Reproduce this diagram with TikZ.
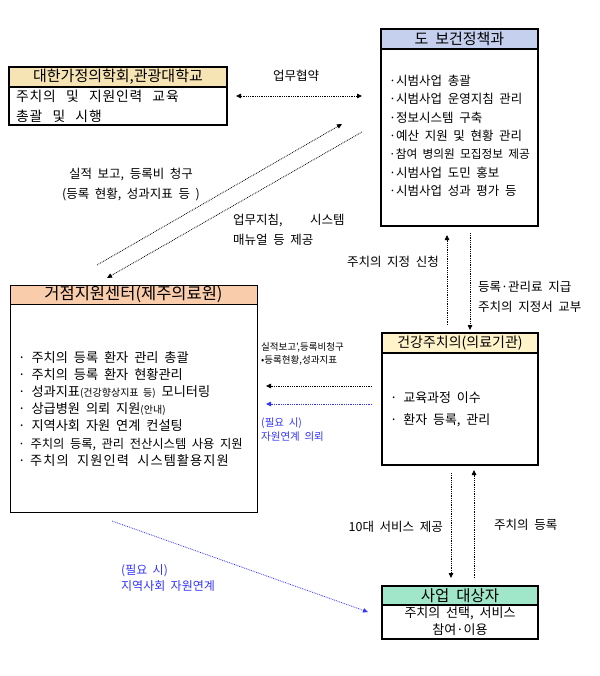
\documentclass[tikz,border=0pt]{standalone}
\usepackage{fontspec}
\setmainfont{Noto Sans CJK KR}[WordSpace=2]
\newfontfamily\widefont{Noto Sans CJK KR}[WordSpace=2.6,LetterSpace=6]
\newfontfamily\widerfont{Noto Sans CJK KR}[WordSpace=2.1,LetterSpace=8]
\usetikzlibrary{arrows.meta}
\definecolor{hblue}{RGB}{197,208,238}
\definecolor{htan}{RGB}{246,228,180}
\definecolor{hsalmon}{RGB}{249,204,172}
\definecolor{hyellow}{RGB}{255,243,202}
\definecolor{hmint}{RGB}{160,230,200}
\definecolor{lblue}{RGB}{51,51,255}
\newcommand{\fs}[2]{\fontsize{#1}{#2}\selectfont}
\begin{document}
\begin{tikzpicture}[x=1pt,y=-1pt,
  boxframe/.style={draw, line width=2pt, inner sep=0pt, outer sep=0pt, anchor=north west},
  hdr/.style={draw, line width=2pt, inner sep=0pt, outer sep=0pt, anchor=north west, font=\fs{15}{18}},
  items/.style={anchor=north west, align=left, inner sep=0pt},
  lbl/.style={inner sep=0pt, align=left, font=\fs{12.5}{20}},
  dotarrow/.style={densely dotted, line width=0.8pt, -{Triangle[length=5pt,width=4.5pt]}},
  dotboth/.style={densely dotted, line width=0.8pt, {Triangle[length=5pt,width=4.5pt]}-{Triangle[length=5pt,width=4.5pt]}},
  bluearrow/.style={dotarrow, draw=lblue},
  bluelbl/.style={lbl, text=lblue}]
\useasboundingbox (0,0) rectangle (599,676);

% ---- 도 보건정책과
\node[boxframe, minimum width=157pt, minimum height=197pt] (pol) at (381,29) {};
\node[hdr, fill=hblue, minimum width=157pt, minimum height=20pt] (polH) at (381,29) {도 보건정책과};
\node[items, font=\fs{12.5}{18.33}] (polT) at (389,75) {·시범사업 총괄\\·시범사업 운영지침 관리\\·정보시스템 구축\\·예산 지원 및 현황 관리\\{\fs{11.7}{18.33}·참여 병의원 모집정보 제공}\\·시범사업 도민 홍보\\·시범사업 성과 평가 등};

% ---- 대한가정의학회
\node[boxframe, minimum width=218pt, minimum height=58pt] (aca) at (9,67) {};
\node[hdr, fill=htan, minimum width=218pt, minimum height=20pt] (acaH) at (9,67) {대한가정의학회,관광대학교};
\node[items, font=\widefont\fs{13.8}{20.3}] (acaT) at (16,90) {주치의 및 지원인력 교육\\총괄 및 시행};

% ---- 거점지원센터
\node[boxframe, line width=1pt, minimum width=247pt, minimum height=227pt] (hub) at (10,285) {};
\node[hdr, line width=1pt, fill=hsalmon, minimum width=247pt, minimum height=19pt, font=\fs{16.5}{18}] (hubH) at (10,285) {거점지원센터(제주의료원)};
\node[items, font=\fs{13.2}{17.2}] (hubT) at (18,351) {· 주치의 등록 환자 관리 총괄\\· 주치의 등록 환자 현황관리\\· 성과지표{\fs{10}{10}(건강향상지표 등)} 모니터링\\· 상급병원 의뢰 지원{\fs{10}{10}(안내)}\\· 지역사회 자원 연계 컨설팅\\{\fs{12.3}{17.2}· 주치의 등록, 관리 전산시스템 사용 지원}\\·\hspace{0.35em}{\widerfont 주치의 지원인력 시스템활용지원}};

% ---- 건강주치의
\node[boxframe, minimum width=156pt, minimum height=132pt] (clin) at (382,333) {};
\node[hdr, fill=hyellow, minimum width=156pt, minimum height=20pt, font=\fs{14}{18}] (clinH) at (382,333) {건강주치의(의료기관)};
\node[items, font=\fs{13}{21.7}] (clinT) at (390,392) {· 교육과정 이수\\· 환자 등록, 관리};

% ---- 사업 대상자
\node[boxframe, minimum width=156pt, minimum height=53pt] (tgt) at (382,586) {};
\node[hdr, fill=hmint, minimum width=156pt, minimum height=19pt, font=\fs{15.5}{18}] (tgtH) at (382,586) {사업 대상자};
\node[inner sep=0pt, align=center, font=\fs{13}{16.7}, anchor=north] (tgtT) at (460,607) {주치의 선택, 서비스\\참여·이용};

% ---- connector end points
\coordinate (a1) at (236,96);  \coordinate (a2) at (362,96);
\coordinate (b1) at (97,265);  \coordinate (b2) at (342,124);
\coordinate (c1) at (362,132); \coordinate (c2) at (107,278);
\coordinate (d1) at (447,325); \coordinate (d2) at (447,235);
\coordinate (e1) at (470,233); \coordinate (e2) at (470,330);
\coordinate (f1) at (372,386); \coordinate (f2) at (266,386);
\coordinate (g1) at (372,404); \coordinate (g2) at (266,404);
\coordinate (h1) at (451,473); \coordinate (h2) at (451,578);
\coordinate (i1) at (474,578); \coordinate (i2) at (474,470);
\coordinate (j1) at (112,521); \coordinate (j2) at (368,612);

\draw[dotboth] (a1) -- (a2);
\draw[dotarrow] (b1) -- (b2);
\draw[dotarrow] (c1) -- (c2);
\draw[dotarrow] (d1) -- (d2);
\draw[dotarrow] (e1) -- (e2);
\draw[dotarrow] (f1) -- (f2);
\draw[bluearrow] (g1) -- (g2);
\draw[dotarrow] (h1) -- (h2);
\draw[dotarrow] (i1) -- (i2);
\draw[bluearrow] (j1) -- (j2);

% ---- labels
\node[lbl] (l1) at (296,76) {업무협약};
\node[lbl, align=center] (l2) at (131,185) {실적 보고, 등록비 청구\\(등록 현황, 성과지표 등 )};
\node[lbl, anchor=west] (l3) at (233,230) {업무지침,\hspace{2.2em}시스템\\매뉴얼 등 제공};
\node[lbl, anchor=east] (l4) at (439,262) {주치의 지정 신청};
\node[lbl, anchor=west] (l5) at (478,297) {등록·관리료 지급\\주치의 지정서 교부};
\node[lbl, anchor=west, font=\fs{9.5}{12.7}] (l6) at (261,354) {실적보고',등록비청구\\•등록현황,성과지표};
\node[bluelbl, anchor=west, font=\fs{10.5}{13.5}] (l7) at (261,429.5) {(필요 시)\\자원연계 의뢰};
\node[lbl, anchor=east] (l8) at (443,527) {10대 서비스 제공};
\node[lbl, anchor=west] (l9) at (494,525) {주치의 등록};
\node[bluelbl, anchor=west, font=\fs{12}{15.7}] (l10) at (121,578) {(필요 시)\\지역사회 자원연계};
\end{tikzpicture}
\end{document}
